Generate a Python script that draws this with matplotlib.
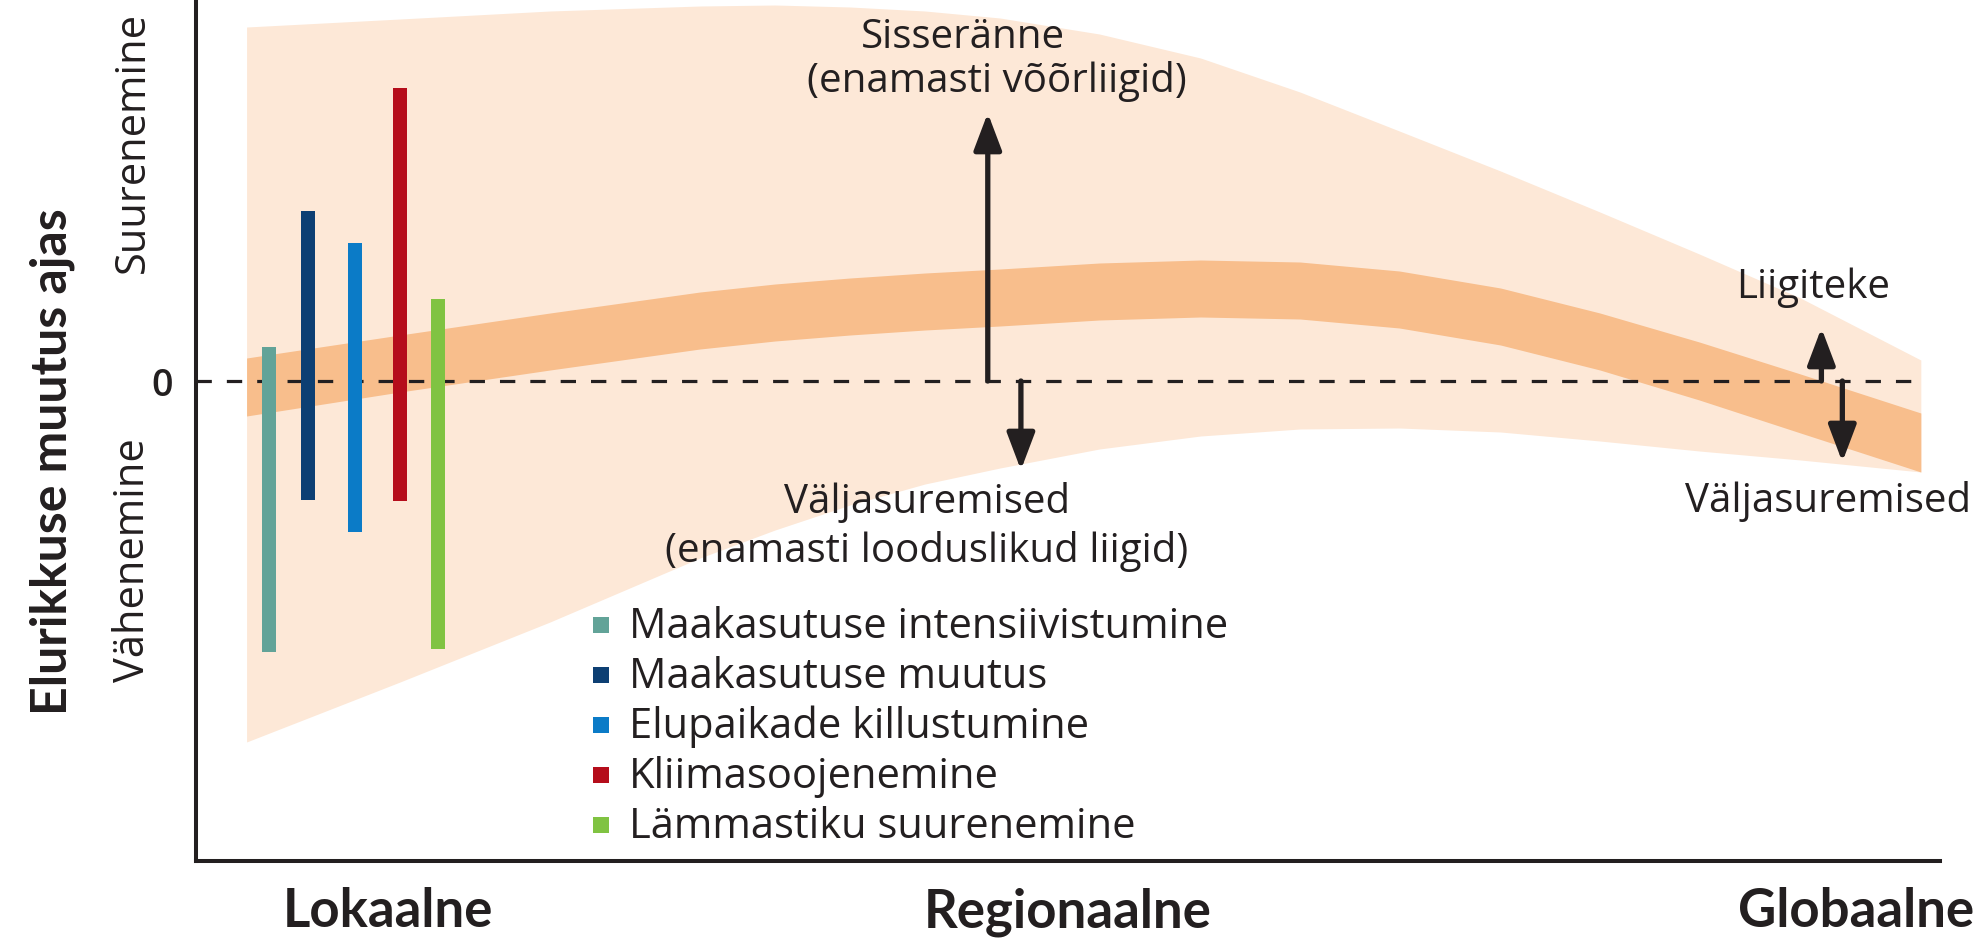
import numpy as np
import matplotlib
matplotlib.use('Agg')
import matplotlib.pyplot as plt
from matplotlib.patches import ArrowStyle

# scale position (0 = local edge of axis, 100 = right end) and change (0 = no change)
band_x = [2.9, 11.7, 20.3, 28.9, 33.2, 37.5, 41.8, 46.1, 51.8, 57.6, 63.3,
          69.0, 74.8, 80.5, 86.2, 92.0, 98.9]
outer_top = [35.4, 36.2, 37.0, 37.5, 37.6, 37.4, 37.0, 36.3, 34.7, 32.3, 28.9,
             25.0, 21.0, 16.9, 12.7, 8.3, 2.1]
outer_bottom = [-36.1, -30.1, -24.1, -17.7, -14.9, -12.4, -10.3, -8.7, -6.8, -5.5, -4.8,
                -4.7, -5.1, -6.0, -7.0, -7.9, -9.1]
inner_top = [2.3, 4.6, 6.8, 8.9, 9.7, 10.3, 10.8, 11.2, 11.8, 12.1, 11.9,
             11.0, 9.3, 6.8, 3.9, 0.7, -3.2]
inner_bottom = [-3.5, -1.1, 1.1, 3.2, 4.0, 4.6, 5.1, 5.5, 6.1, 6.4, 6.2,
                5.3, 3.6, 1.1, -1.9, -5.2, -9.1]

drivers = ['Maakasutuse intensiivistumine', 'Maakasutuse muutus',
           'Elupaikade killustumine', 'Kliimasoojenemine', 'Lämmastiku suurenemine']
driver_colors = ['#62a398', '#0d3f73', '#0b7bc7', '#b50d1b', '#80c342']
driver_x = [4.2, 6.4, 9.1, 11.7, 13.9]
driver_high = [3.4, 17.0, 13.8, 29.3, 8.2]
driver_low = [-27.1, -11.9, -15.1, -12.0, -26.8]

# arrows: x, end of arrow
arrow_x = [45.4, 47.3, 93.2, 94.4]
arrow_end = [26.8, -8.9, 5.3, -8.1]

scale_ticks = [11.0, 50.0, 95.2]
scale_labels = ['Lokaalne', 'Regionaalne', 'Globaalne']

ink = '#231f20'
plt.rcParams['font.family'] = ['Open Sans', 'DejaVu Sans']

fig = plt.figure(figsize=(19.83, 9.41), dpi=100)
ax = fig.add_axes([196 / 1983, 80 / 941, 1744 / 1983, 861 / 941])
ax.set_xlim(0, 100)
ax.set_ylim(-48.0, 38.1)

ax.fill_between(band_x, outer_bottom, outer_top, color='#fde8d7', lw=0, zorder=1)
ax.fill_between(band_x, inner_bottom, inner_top, color='#f8be8c', lw=0, zorder=2)

ax.hlines(0, 0, 98.6, colors=ink, lw=2.3, linestyles=(0, (4.8, 4.7)), zorder=3)

ax.bar(driver_x, np.array(driver_high) - np.array(driver_low), bottom=driver_low,
       width=0.8, color=driver_colors, zorder=4)

big = ArrowStyle('-|>', head_length=0.9, head_width=0.34)
for x, y in zip(arrow_x, arrow_end):
    ax.annotate('', xy=(x, y), xytext=(x, 0),
                arrowprops=dict(arrowstyle=big, mutation_scale=25, lw=3.8,
                                color=ink, shrinkA=0, shrinkB=0), zorder=5)

fs = 29
ax.text(44.0, 33.3, 'Sisseränne', ha='center', va='baseline', fontsize=fs, color=ink)
ax.text(45.9, 28.9, '(enamasti võõrliigid)', ha='center', va='baseline', fontsize=fs, color=ink)
ax.text(41.9, -13.2, 'Väljasuremised', ha='center', va='baseline', fontsize=fs, color=ink)
ax.text(41.9, -18.1, '(enamasti looduslikud liigid)', ha='center', va='baseline', fontsize=fs, color=ink)
ax.text(92.7, 8.3, 'Liigiteke', ha='center', va='baseline', fontsize=fs, color=ink)
ax.text(93.6, -13.1, 'Väljasuremised', ha='center', va='baseline', fontsize=fs,
        color=ink, clip_on=False)

# legend drawn as rows of squares and labels
for i, (lab, col) in enumerate(zip(drivers, driver_colors)):
    y = -24.4 - 5.0 * i
    ax.scatter(23.2, y, marker='s', s=130, color=col, lw=0, zorder=5)
    ax.text(24.8, y - 1.3, lab, ha='left', va='baseline', fontsize=30, color=ink)

for side in ['top', 'right']:
    ax.spines[side].set_visible(False)
for side in ['left', 'bottom']:
    ax.spines[side].set_linewidth(2.9)
    ax.spines[side].set_color(ink)

ax.set_yticks([0])
ax.set_yticklabels(['0'], fontsize=27, color=ink, fontweight='semibold')
ax.tick_params(axis='y', length=0, pad=17)
ax.set_xticks(scale_ticks)
ax.set_xticklabels(scale_labels, fontsize=38, color=ink, fontweight='bold', family='Lato')
ax.tick_params(axis='x', length=0, pad=19)

fig.text(133 / 1983, 1 - 142 / 941, 'Suurenemine', rotation=90, ha='center', va='center',
         fontsize=30, color=ink)
fig.text(133 / 1983, 1 - 560 / 941, 'Vähenemine', rotation=90, ha='center', va='center',
         fontsize=30, color=ink)
fig.text(52 / 1983, 1 - 462 / 941, 'Elurikkuse muutus ajas', rotation=90, ha='center',
         va='center', fontsize=36, fontweight='bold', family='Lato', color=ink)

fig.savefig('out.png', dpi=100)
